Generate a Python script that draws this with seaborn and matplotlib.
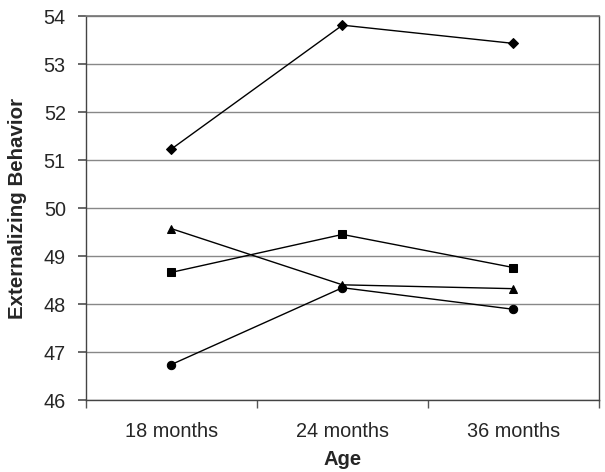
import matplotlib
matplotlib.use("Agg")
import matplotlib.pyplot as plt
import seaborn as sns
import pandas as pd

ages = ["18 months", "24 months", "36 months"]
groups = ["A", "B", "C", "D"]
diamond = [51.23, 53.81, 53.43]
square = [48.66, 49.45, 48.76]
triangle = [49.57, 48.40, 48.32]
circle = [46.74, 48.34, 47.89]
y_ticks = [46, 47, 48, 49, 50, 51, 52, 53, 54]

rows = []
for g, vals in zip(groups, [diamond, square, triangle, circle]):
    for a, v in zip(ages, vals):
        rows.append({"age": a, "score": v, "group": g})
df = pd.DataFrame(rows)

sns.set_theme(style="white")
plt.rcParams['font.family'] = ['Liberation Sans', 'DejaVu Sans']

fig = plt.figure(figsize=(6.05, 4.72), dpi=100)
ax = fig.add_axes([0.142, 0.1525, 0.848, 0.8135])

sns.pointplot(data=df, x="age", y="score", hue="group", order=ages,
              palette=["black"] * 4, markers=["D", "s", "^", "o"],
              linestyles="-", markersize=6, linewidth=1.0, ax=ax,
              legend=False, errorbar=None)
# diamond a bit smaller
for ln in ax.lines:
    if ln.get_marker() == "D":
        ln.set_markersize(5)

ax.set_ylim(46, 54)
ax.set_xlim(-0.5, 2.5)
ax.set_yticks(y_ticks)
ax.set_yticklabels([str(t) for t in y_ticks])
ax.yaxis.grid(True, color="#888888", linewidth=1.0)
ax.set_axisbelow(True)

# category separator ticks on x axis
ax.set_xticks([0, 1, 2])
ax.set_xticklabels(ages)
ax.tick_params(axis="x", length=0, labelsize=14.3, pad=16)
ax.set_xticks([-0.5, 0.5, 1.5, 2.5], minor=True)
ax.tick_params(axis="x", which="minor", length=6, color="#555555", direction="out", bottom=True)
ax.tick_params(axis="y", length=5.5, color="#555555", direction="out", labelsize=14.3, left=True, pad=9)

for side in ["left", "right", "bottom"]:
    ax.spines[side].set_color("#444444")
    ax.spines[side].set_linewidth(1.0)
ax.spines["top"].set_color("#777777")

ax.set_xlabel("Age", fontsize=14.5, fontweight="bold", labelpad=6)
ax.set_ylabel("Externalizing Behavior", fontsize=14.8, fontweight="bold", labelpad=12)

plt.savefig("out.png", dpi=100)
